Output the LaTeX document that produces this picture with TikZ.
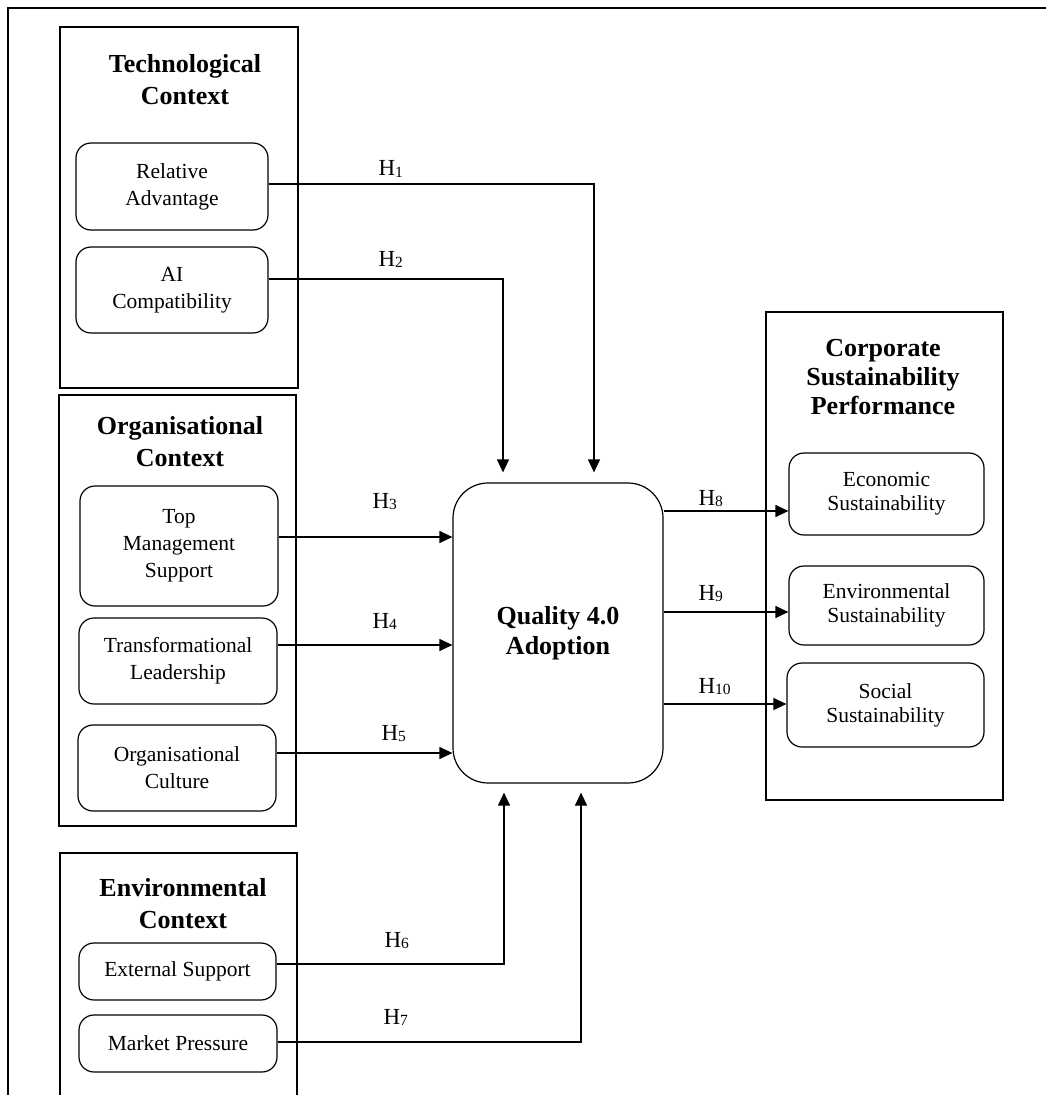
\documentclass[tikz,border=0pt]{standalone}
\usepackage{fontspec}
\setmainfont{Liberation Serif}
\usetikzlibrary{arrows.meta,calc}
\newcommand\hyp[1]{H\raisebox{-1.6pt}{\fontsize{15.5}{15.5}\selectfont #1}}
\begin{document}
\begin{tikzpicture}[x=1pt,y=-1pt,
  line width=1.2pt,
  ctx/.style={draw,rectangle,inner sep=0pt},
  item/.style={draw,rounded corners=15pt,inner sep=0pt,align=center,
     font=\fontsize{21.5}{27}\selectfont},
  itemr/.style={item,font=\fontsize{21.5}{24}\selectfont},
  ttl/.style={align=center,inner sep=0pt,font=\fontsize{26}{32}\selectfont\bfseries},
  lbl/.style={anchor=base west,inner sep=0pt,font=\fontsize{23}{23}\selectfont},
  arr/.style={-{Triangle[length=13pt,width=12pt]}},
]
\useasboundingbox (0,0) rectangle (1046,1095);
% outer frame (cropped)
\draw[line width=1.5pt] (8,1095) -- (8,8) -- (1046,8);

% context boxes
\node[ctx,minimum width=238pt,minimum height=361pt] (tech) at (179,207.5) {};
\node[ctx,minimum width=237pt,minimum height=431pt] (org) at (177.5,610.5) {};
\draw (60,1095) -- (60,853) -- (297,853) -- (297,1095);
\node[ctx,minimum width=237pt,minimum height=488pt] (corp) at (884.5,556) {};

% titles
\node[ttl] (ttech) at (185,80) {Technological\\Context};
\node[ttl] (torg) at (180,442) {Organisational\\Context};
\node[ttl] (tenv) at (183,904) {Environmental\\Context};
\node[ttl,font=\fontsize{26}{29}\selectfont\bfseries] (tcorp) at (883,377) {Corporate\\Sustainability\\Performance};

% items
\node[item,minimum width=192pt,minimum height=87pt] (ra) at (172,186.5) {Relative\\Advantage};
\node[item,minimum width=192pt,minimum height=86pt] (ai) at (172,290) {AI\\Compatibility};
\node[item,minimum width=198pt,minimum height=120pt] (tms) at (179,546) {Top\\Management\\Support};
\node[item,minimum width=198pt,minimum height=86pt] (tl) at (178,661) {Transformational\\Leadership};
\node[item,minimum width=198pt,minimum height=86pt] (oc) at (177,768) {Organisational\\Culture};
\node[item,minimum width=197pt,minimum height=57pt] (es) at (177.5,971.5) {External Support};
\node[item,minimum width=198pt,minimum height=57pt] (mp) at (178,1043.5) {Market Pressure};

\node[itemr,minimum width=195pt,minimum height=82pt] (econ) at (886.5,494) {Economic\\Sustainability};
\node[itemr,minimum width=195pt,minimum height=79pt] (envs) at (886.5,605.5) {Environmental\\Sustainability};
\node[itemr,minimum width=197pt,minimum height=84pt] (soc) at (885.5,705) {Social\\Sustainability};

% central construct
\node[draw,rounded corners=35pt,minimum width=210pt,minimum height=300pt,align=center,
  font=\fontsize{26}{30}\selectfont\bfseries] (q) at (558,633) {Quality 4.0\\Adoption};

% connectors
\draw[arr,shorten >=10pt] ([yshift=2.5pt]ra.east) -| ($(q.north)+(36,0)$);
\draw[arr,shorten >=10pt] ([yshift=11pt]ai.east) -| ($(q.north)+(-55,0)$);
\draw[arr] ([yshift=9pt]tms.east) -- ([yshift=9pt]tms.east -| q.west);
\draw[arr] ([yshift=16pt]tl.east) -- ([yshift=16pt]tl.east -| q.west);
\draw[arr] ([yshift=15pt]oc.east) -- ([yshift=15pt]oc.east -| q.west);
\draw[arr,shorten >=9pt] ([yshift=7.5pt]es.east) -| ($(q.south)+(-54,0)$);
\draw[arr,shorten >=9pt] ([yshift=1.5pt]mp.east) -| ($(q.south)+(23,0)$);
\draw[arr] ([yshift=-17pt]econ.west -| q.east) -- ([yshift=-17pt]econ.west);
\draw[arr] ([yshift=-6.5pt]envs.west -| q.east) -- ([yshift=-6.5pt]envs.west);
\draw[arr] ([yshift=1pt]soc.west -| q.east) -- ([yshift=1pt]soc.west);

% labels
\node[lbl] (h1) at (378,175.5) {\hyp{1}};
\node[lbl] (h2) at (378,266) {\hyp{2}};
\node[lbl] (h3) at (372,508) {\hyp{3}};
\node[lbl] (h4) at (372,628) {\hyp{4}};
\node[lbl] (h5) at (381,740) {\hyp{5}};
\node[lbl] (h6) at (384,947) {\hyp{6}};
\node[lbl] (h7) at (383,1024) {\hyp{7}};
\node[lbl] (h8) at (698,505) {\hyp{8}};
\node[lbl] (h9) at (698,600) {\hyp{9}};
\node[lbl] (h10) at (698,693) {\hyp{10}};
\end{tikzpicture}
\end{document}
